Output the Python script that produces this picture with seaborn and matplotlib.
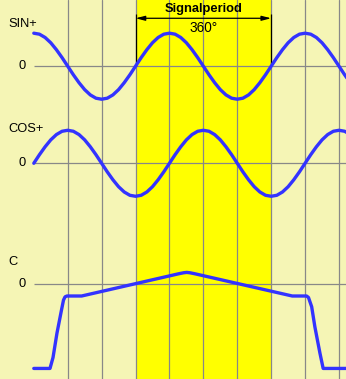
import numpy as np
import pandas as pd
import matplotlib
matplotlib.use("Agg")
import matplotlib.pyplot as plt
import seaborn as sns

# ---------------- data ----------------
angle_deg = list(range(0, 841, 15))  # electrical angle, degrees

sin_plus = [1.00, 0.97, 0.87, 0.71, 0.50, 0.26, 0.00, -0.26, -0.50, -0.71, -0.87, -0.97,
            -1.00, -0.97, -0.87, -0.71, -0.50, -0.26, 0.00, 0.26, 0.50, 0.71, 0.87, 0.97,
            1.00, 0.97, 0.87, 0.71, 0.50, 0.26, 0.00, -0.26, -0.50, -0.71, -0.87, -0.97,
            -1.00, -0.97, -0.87, -0.71, -0.50, -0.26, 0.00, 0.26, 0.50, 0.71, 0.87, 0.97,
            1.00, 0.97, 0.87, 0.71, 0.50, 0.26, 0.00, -0.26, -0.50]

cos_plus = [0.00, 0.26, 0.50, 0.71, 0.87, 0.97, 1.00, 0.97, 0.87, 0.71, 0.50, 0.26,
            0.00, -0.26, -0.50, -0.71, -0.87, -0.97, -1.00, -0.97, -0.87, -0.71, -0.50, -0.26,
            0.00, 0.26, 0.50, 0.71, 0.87, 0.97, 1.00, 0.97, 0.87, 0.71, 0.50, 0.26,
            0.00, -0.26, -0.50, -0.71, -0.87, -0.97, -1.00, -0.97, -0.87, -0.71, -0.50, -0.26,
            0.00, 0.26, 0.50, 0.71, 0.87, 0.97, 1.00, 0.97, 0.87]

c_angle = [0, 43, 51, 61.5, 73.5, 78.8, 83, 88, 127, 385, 398, 406, 414, 427,
           686, 724, 729, 737.5, 746, 759.5, 768, 840]
c_value = [-2.55, -2.55, -2.22, -1.48, -0.78, -0.48, -0.38, -0.355, -0.355, 0.32, 0.35,
           0.36, 0.35, 0.32, -0.355, -0.355, -0.40, -0.68, -1.29, -2.09, -2.55, -2.55]

grid_angles = [90, 180, 270, 360, 450, 540, 630, 720, 810]
period_start, period_end = 270, 630
trace_labels = ["SIN+", "COS+", "C"]
zero_label = "0"
period_title = "Signalperiod"
period_value = "360°"

# ---------------- layout constants ----------------
offsets = {"SIN+": 0.0, "COS+": -2.942, "C": -6.609}
label_y = {"SIN+": 1.279, "COS+": -1.903, "C": -5.924}

BG = "#F5F5B5"
BAND = "#FFFF00"
GRID = "#888888"
BLUE = "#3333FF"
TXT = "#000000"

sns.set_style("white")
plt.rcParams["font.family"] = ["Liberation Sans", "DejaVu Sans"]

fig = plt.figure(figsize=(3.46, 3.79), dpi=100)
fig.patch.set_facecolor(BG)
ax = fig.add_axes([0, 0, 1, 1])
ax.set_facecolor(BG)
ax.set_xlim(-89.7, 828.6)
ax.set_ylim(-9.479, 2.006)
for s in ax.spines.values():
    s.set_visible(False)
ax.set_xticks([])
ax.set_yticks([])

# yellow period band
ax.axvspan(period_start, period_end, color=BAND, lw=0, zorder=0)

# vertical grid lines
for g in grid_angles:
    ax.axvline(g, color=GRID, lw=0.9, zorder=1)

# zero lines
for name in trace_labels:
    ax.hlines(offsets[name], 0, 840, color=GRID, lw=0.9, zorder=1)

# traces
df_sin = pd.DataFrame({"angle": angle_deg, "v": np.array(sin_plus) + offsets["SIN+"]})
df_cos = pd.DataFrame({"angle": angle_deg, "v": np.array(cos_plus) + offsets["COS+"]})
df_c = pd.DataFrame({"angle": c_angle, "v": np.array(c_value) + offsets["C"]})
for d in (df_sin, df_cos, df_c):
    sns.lineplot(data=d, x="angle", y="v", ax=ax, color=BLUE, lw=2.4,
                 estimator=None, sort=False, zorder=3)
ax.set_xlabel("")
ax.set_ylabel("")

# labels
for name in trace_labels:
    ax.text(-67.5, label_y[name], name, ha="left", va="center", fontsize=9.3, color=TXT)
    ax.text(-22, offsets[name] + 0.02, zero_label, ha="right", va="center", fontsize=9.3,
            color=TXT)

# signal period annotation
ax.vlines([period_start, period_end], 0, 1.582, color="black", lw=0.9, zorder=2)
ax.annotate("", xy=(period_start, 1.452), xytext=(period_end, 1.452),
            arrowprops=dict(arrowstyle="<|-|>,head_length=0.55,head_width=0.14",
                            color="black", lw=0.9, shrinkA=0, shrinkB=0), zorder=4)
ax.text(450, 1.745, period_title, ha="center", va="center", fontsize=9.3,
        fontweight="bold", color=TXT)
ax.text(450, 1.158, period_value, ha="center", va="center", fontsize=9.8, color=TXT)

fig.savefig("out.png", dpi=100, facecolor=BG)
